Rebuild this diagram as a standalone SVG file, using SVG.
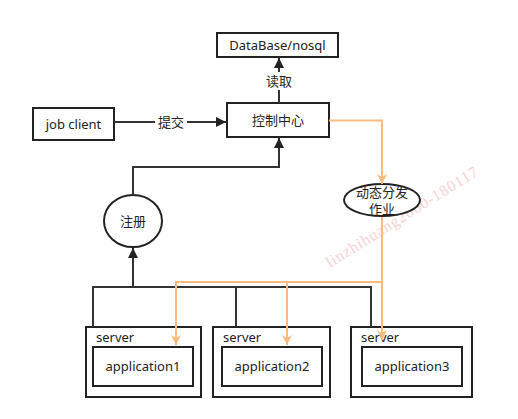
<svg xmlns="http://www.w3.org/2000/svg" width="518" height="419" viewBox="0 0 518 419">
<defs>
<style>
.box{fill:#fff;stroke:#222;stroke-width:2}
.t{font-family:"Noto Sans","Noto Sans CJK SC",sans-serif;font-size:13px;fill:#222}
.c{text-anchor:middle}
.k{fill:none;stroke:#333;stroke-width:2}
.o{fill:none;stroke:#FBBB80;stroke-width:2}
</style>
<marker id="ab" viewBox="0 0 10 10" refX="10" refY="5" markerWidth="10" markerHeight="10" markerUnits="userSpaceOnUse" orient="auto"><path d="M0,0L10,5L0,10z" fill="#222"/></marker>
<marker id="ao" viewBox="0 0 10 10" refX="10" refY="5" markerWidth="12" markerHeight="10" markerUnits="userSpaceOnUse" orient="auto"><path d="M0,0L10,5L0,10L3,5z" fill="#FBBB80"/></marker>
</defs>
<rect width="518" height="419" fill="#fff"/>
<text x="330" y="268" transform="rotate(-32 330 268)" font-family="Liberation Serif,serif" font-size="16" fill="#F3C6C6" opacity="0.8" textLength="176" lengthAdjust="spacing">linzhihuang2000-180117</text>
<g id="db"><rect class="box" x="217" y="33" width="121" height="24"/><text class="t c" x="277.5" y="50">DataBase/nosql</text></g>
<g id="control"><rect class="box" x="227" y="103" width="102" height="34"/><text class="t c" x="278" y="125">控制中心</text></g>
<g id="jobclient"><rect class="box" x="33" y="108" width="81" height="32"/><text class="t c" x="73.5" y="129">job client</text></g>
<g id="register"><ellipse class="box" cx="133" cy="221" rx="29" ry="26"/><text class="t c" x="133" y="226">注册</text></g>
<g id="dispatch"><ellipse class="box" cx="382" cy="200" rx="38" ry="16"/><text class="t c" x="382" y="197">动态分发</text><text class="t c" x="382" y="214">作业</text></g>
<g id="server1"><rect class="box" x="86" y="327" width="115" height="70"/><text class="t" x="96" y="342">server</text><rect class="box" x="93" y="347" width="100" height="39"/><text class="t c" x="143" y="371">application1</text></g>
<g id="server2"><rect class="box" x="213" y="327" width="117" height="70"/><text class="t" x="223" y="342">server</text><rect class="box" x="222" y="347" width="100" height="39"/><text class="t c" x="272" y="371">application2</text></g>
<g id="server3"><rect class="box" x="351" y="327" width="121" height="70"/><text class="t" x="361" y="342">server</text><rect class="box" x="362" y="347" width="100" height="39"/><text class="t c" x="412" y="371">application3</text></g>
<g id="connectors">
<path class="k" d="M279,103V58" marker-end="url(#ab)"/>
<path class="k" d="M114,122H226" marker-end="url(#ab)"/>
<path class="k" d="M133,195V167H279V138" marker-end="url(#ab)"/>
<path class="k" d="M133,287V248" marker-end="url(#ab)"/>
<path class="k" d="M93,327V287H371V327M236,287V327"/>
<path class="o" d="M329,120.5H382V184" marker-end="url(#ao)"/>
<path class="o" d="M382,217V340" marker-end="url(#ao)"/>
<path class="o" d="M382,282H176V345" marker-end="url(#ao)"/>
<path class="o" d="M287,282V345" marker-end="url(#ao)"/>
<rect x="155" y="113" width="32" height="18" fill="#fff"/>
<text class="t c" x="171" y="127">提交</text>
<rect x="264" y="72" width="30" height="18" fill="#fff"/>
<text class="t c" x="279" y="86">读取</text>
</g>
</svg>
